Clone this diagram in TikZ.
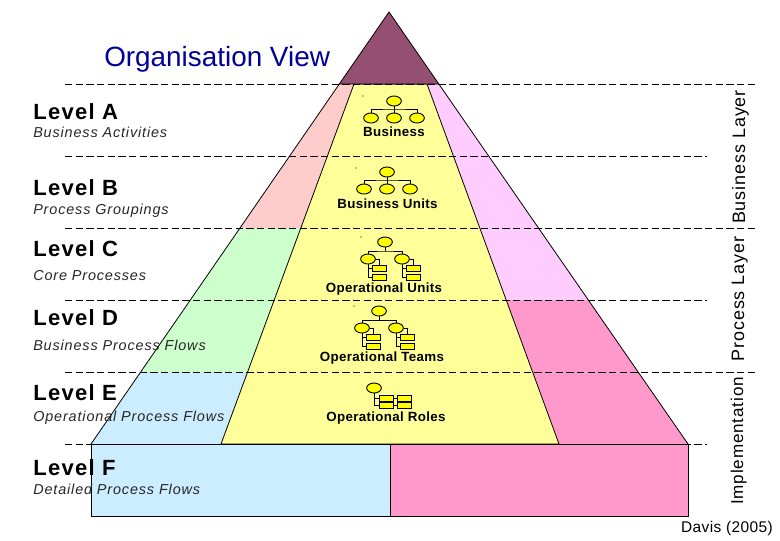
\documentclass[tikz,border=0pt]{standalone}
\usepackage{fontspec}
\usetikzlibrary{shapes.geometric}
\setmainfont{Liberation Sans}
\newfontfamily\wideSans[LetterSpace=6]{Liberation Sans}
\newfontfamily\wideLabel[LetterSpace=5]{Liberation Sans}
\newfontfamily\tightSans[LetterSpace=2.5]{Liberation Sans}
\definecolor{cPurple}{HTML}{954F72}
\definecolor{cRose}{HTML}{FFCCCC}
\definecolor{cGreen}{HTML}{CCFFCC}
\definecolor{cBlue}{HTML}{CCECFF}
\definecolor{cLilac}{HTML}{FFCCFF}
\definecolor{cPink}{HTML}{FF99CC}
\definecolor{cYellow}{HTML}{FFFF99}
\definecolor{cIcon}{HTML}{FFFF00}
\definecolor{cTitle}{HTML}{000099}
\tikzset{
  x=0.75pt,y=-0.75pt,
  band/.style={draw=black,line width=0.6pt},
  divider/.style={draw=black,line width=0.7pt,dash pattern=on 5.6pt off 2.4pt},
  levelname/.style={anchor=base west,inner sep=0pt,font=\wideSans\bfseries\fontsize{16.5}{17}\selectfont},
  leveldesc/.style={anchor=base west,inner sep=0pt,font=\wideSans\itshape\fontsize{10.8}{12}\selectfont,text=black!85},
  iconlabel/.style={anchor=base,inner sep=0pt,font=\tightSans\bfseries\fontsize{10}{11}\selectfont},
  layerlabel/.style={anchor=base,rotate=90,inner sep=0pt,font=\wideLabel\fontsize{13.5}{14}\selectfont},
  orgunit/.style={draw=black,fill=cIcon,ellipse,minimum width=11pt,minimum height=7.5pt,inner sep=0pt,line width=0.7pt},
  orgrole/.style={draw=black,fill=cIcon,rectangle,minimum width=10.5pt,minimum height=4.5pt,inner sep=0pt,line width=0.7pt},
  treeline/.style={draw=black,line width=0.7pt},
  speck/.style={fill=black,circle,inner sep=0pt,minimum size=0.8pt},
  flatA/.pic={
    \node[orgunit] (-t) at (0,0) {};
    \node[orgunit] (-a) at (-23,17) {};
    \node[orgunit] (-b) at (0,17) {};
    \node[orgunit] (-c) at (23,17) {};
    \coordinate (-m) at (0,8);
    \draw[treeline] (-t) -- (-b);
    \draw[treeline] (-a) |- (-m) -| (-c);
  },
  deepA/.pic={
    \node[orgunit] (-t) at (0,0) {};
    \node[orgunit] (-l) at (-17,17) {};
    \node[orgunit] (-r) at (17,17) {};
    \node[orgrole] (-l1) at (-6,26) {};
    \node[orgrole] (-l2) at (-6,35) {};
    \node[orgrole] (-r1) at (28,26) {};
    \node[orgrole] (-r2) at (28,35) {};
    \coordinate (-m) at (0,9);
    \draw[treeline] (-t) -- (-m);
    \draw[treeline] (-l) |- (-m) -| (-r);
    \draw[treeline] (-l.south) |- (-l1.west);
    \draw[treeline] (-l.south) |- (-l2.west);
    \draw[treeline] (-r.south) |- (-r1.west);
    \draw[treeline] (-r.south) |- (-r2.west);
    \draw[treeline] (-l.east) -| (-l1.north);
    \draw[treeline] (-r.east) -| (-r1.north);
  },
}
\begin{document}
\begin{tikzpicture}
\useasboundingbox (0,0) rectangle (780,540);
% pyramid bands
\coordinate (apex) at (389,12);
\fill[cRose]  (339.3,84) -- (389,84) -- (389,228) -- (240,228) -- cycle;
\fill[cGreen] (240,228) -- (389,228) -- (389,372) -- (141,372) -- cycle;
\fill[cBlue]  (141,372) -- (389,372) -- (389,444) -- (91,444) -- cycle;
\fill[cLilac] (389,84) -- (438.8,84) -- (588.5,300) -- (389,300) -- cycle;
\fill[cPink]  (389,300) -- (588.5,300) -- (688,444) -- (389,444) -- cycle;
\draw[band,fill=cYellow] (354,84) -- (427,84) -- (559,444) -- (221,444) -- cycle;
\draw[band,fill=cPurple] (apex) -- (438.8,84) -- (339.3,84) -- cycle;
\draw[band] (339.3,84) -- (91,444);
\draw[band] (438.8,84) -- (688,444);
\draw[band,fill=cBlue] (91,444) rectangle (390,516);
\draw[band,fill=cPink] (390,444) rectangle (688,516);
% dividers
\foreach \yy/\xx in {84/755,156/707,228/755,300/707,372/755,444/707}
  \draw[divider] (65,\yy) -- (\xx,\yy);
% icons
\pic (ia) at (394,101) {flatA};
\pic (ib) at (387,172) {flatA};
\pic (ic) at (385,242) {deepA};
\pic (id) at (379,311) {deepA};
\node[orgunit] (ie) at (374,388) {};
\node[orgrole] (ie1) at (386,398) {};
\node[orgrole] (ie2) at (404,398) {};
\node[orgrole] (ie3) at (386,405) {};
\node[orgrole] (ie4) at (404,405) {};
\draw[treeline] (ie.south) |- (ie1.west);
\draw[treeline] (ie.south) |- (ie3.west);
\draw[treeline] (ie1) -- (ie2);
\draw[treeline] (ie3) -- (ie4);
\node[speck] (s1) at (363,96) {};
\node[speck] (s2) at (356,168) {};
\node[speck] (s3) at (361,237) {};
\node[speck] (s4) at (354,306) {};
% icon labels
\node[iconlabel] (la) at (394,136.5) {Business};
\node[iconlabel] (lb) at (387.5,208.5) {Business Units};
\node[iconlabel] (lc) at (384,292.5) {Operational Units};
\node[iconlabel] (ld) at (382,361.5) {Operational Teams};
\node[iconlabel] (le) at (386,421.5) {Operational Roles};
% level labels
\node[anchor=base west,inner sep=0pt,font=\fontsize{20.9}{22}\selectfont,text=cTitle] (title) at (104,66) {Organisation View};
\node[levelname] (na) at (33,119) {Level A};
\node[leveldesc] (da) at (33,137) {Business Activities};
\node[levelname] (nb) at (33,195) {Level B};
\node[leveldesc] (db) at (33,214) {Process Groupings};
\node[levelname] (nc) at (33,256) {Level C};
\node[leveldesc] (dc) at (33,280) {Core Processes};
\node[levelname] (nd) at (33,325) {Level D};
\node[leveldesc] (dd) at (33,350) {Business Process Flows};
\node[levelname] (ne) at (33,400) {Level E};
\node[leveldesc] (de) at (33,421) {Operational Process Flows};
\node[levelname] (nf) at (33,475) {Level F};
\node[leveldesc] (df) at (33,494) {Detailed Process Flows};
% layers
\node[layerlabel] (l1) at (745,157) {Business Layer};
\node[layerlabel] (l2) at (744,299) {Process Layer};
\node[layerlabel,font=\wideLabel\fontsize{12.8}{14}\selectfont] (l3) at (743,441) {Implementation};
\node[anchor=base east,inner sep=0pt,font=\tightSans\fontsize{11.6}{12}\selectfont] (src) at (773,532) {Davis (2005)};
\end{tikzpicture}
\end{document}
